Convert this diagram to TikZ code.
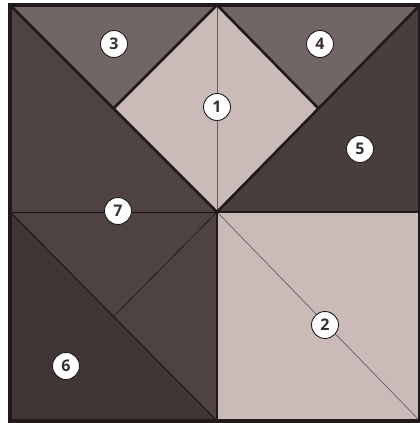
\documentclass[tikz,border=0pt]{standalone}
\usepackage{fontspec}
\setmainfont{Open Sans}
\definecolor{lightp}{RGB}{202,187,185}
\definecolor{midp}{RGB}{114,102,101}
\definecolor{darkp}{RGB}{72,62,61}
\definecolor{darkq}{RGB}{78,67,66}
\definecolor{darkr}{RGB}{64,54,53}
\definecolor{edge}{RGB}{32,26,26}
\tikzset{
  piece/.style={draw=edge, line width=2.6pt, line join=miter},
  fold/.style={draw=edge!85!black, line width=0.6pt},
  foldlight/.style={draw=edge!70!white, line width=0.7pt},
  num/.style={circle, draw=edge, line width=0.9pt, fill=white, minimum size=27pt, inner sep=0pt, font=\fontsize{16}{16}\selectfont\bfseries, text=edge!90!white}
}
\begin{document}
\begin{tikzpicture}[x=1pt,y=-1pt]
\useasboundingbox (0,0) rectangle (420,423);
\fill[white] (0,0) rectangle (420,423);
% key points
\coordinate (TL) at (10,5);
\coordinate (TM) at (217,5);
\coordinate (TR) at (420,5);
\coordinate (ML) at (10,212);
\coordinate (C) at (217,212);
\coordinate (MR) at (420,212);
\coordinate (BL) at (10,421);
\coordinate (BM) at (217,421);
\coordinate (BR) at (420,421);
\coordinate (QL) at (113.5,108.5);
\coordinate (QR) at (318.5,108.5);
\coordinate (QB) at (113.5,316.5);
% pieces
\fill[darkq] (TL) -- (C) -- (BM) -- (ML) -- cycle;
\fill[darkr] (ML) -- (BM) -- (BL) -- cycle;
\fill[darkp] (TR) -- (MR) -- (C) -- cycle;
\fill[midp] (TL) -- (TM) -- (QL) -- cycle;
\fill[midp] (TM) -- (TR) -- (QR) -- cycle;
\fill[lightp] (TM) -- (QR) -- (C) -- (QL) -- cycle;
\fill[lightp] (C) -- (MR) -- (BR) -- (BM) -- cycle;
% thin fold lines
\draw[foldlight] (TM) -- (C);
\draw[foldlight] (C) -- (BR);
\draw[fold] (ML) -- (C);
\draw[fold] (C) -- (QB);
\draw[draw=edge, line width=1.2pt] (ML) -- (BM);
% thick edges
\draw[piece] (TL) -- (C);
\draw[piece] (TR) -- (C);
\draw[piece] (TM) -- (QL);
\draw[piece] (TM) -- (QR);
\draw[piece] (C) -- (BM);
\draw[piece] (C) -- (MR);
\draw[draw=edge, line width=4pt] (TL) -- (TR) -- (BR) -- (BL) -- cycle;
% labels
\node[num] (n1) at (217,107) {1};
\node[num] (n2) at (325,325) {2};
\node[num] (n3) at (114,44) {3};
\node[num] (n4) at (320,44) {4};
\node[num] (n5) at (360,149) {5};
\node[num] (n6) at (66,366) {6};
\node[num] (n7) at (118,211) {7};
\end{tikzpicture}
\end{document}
